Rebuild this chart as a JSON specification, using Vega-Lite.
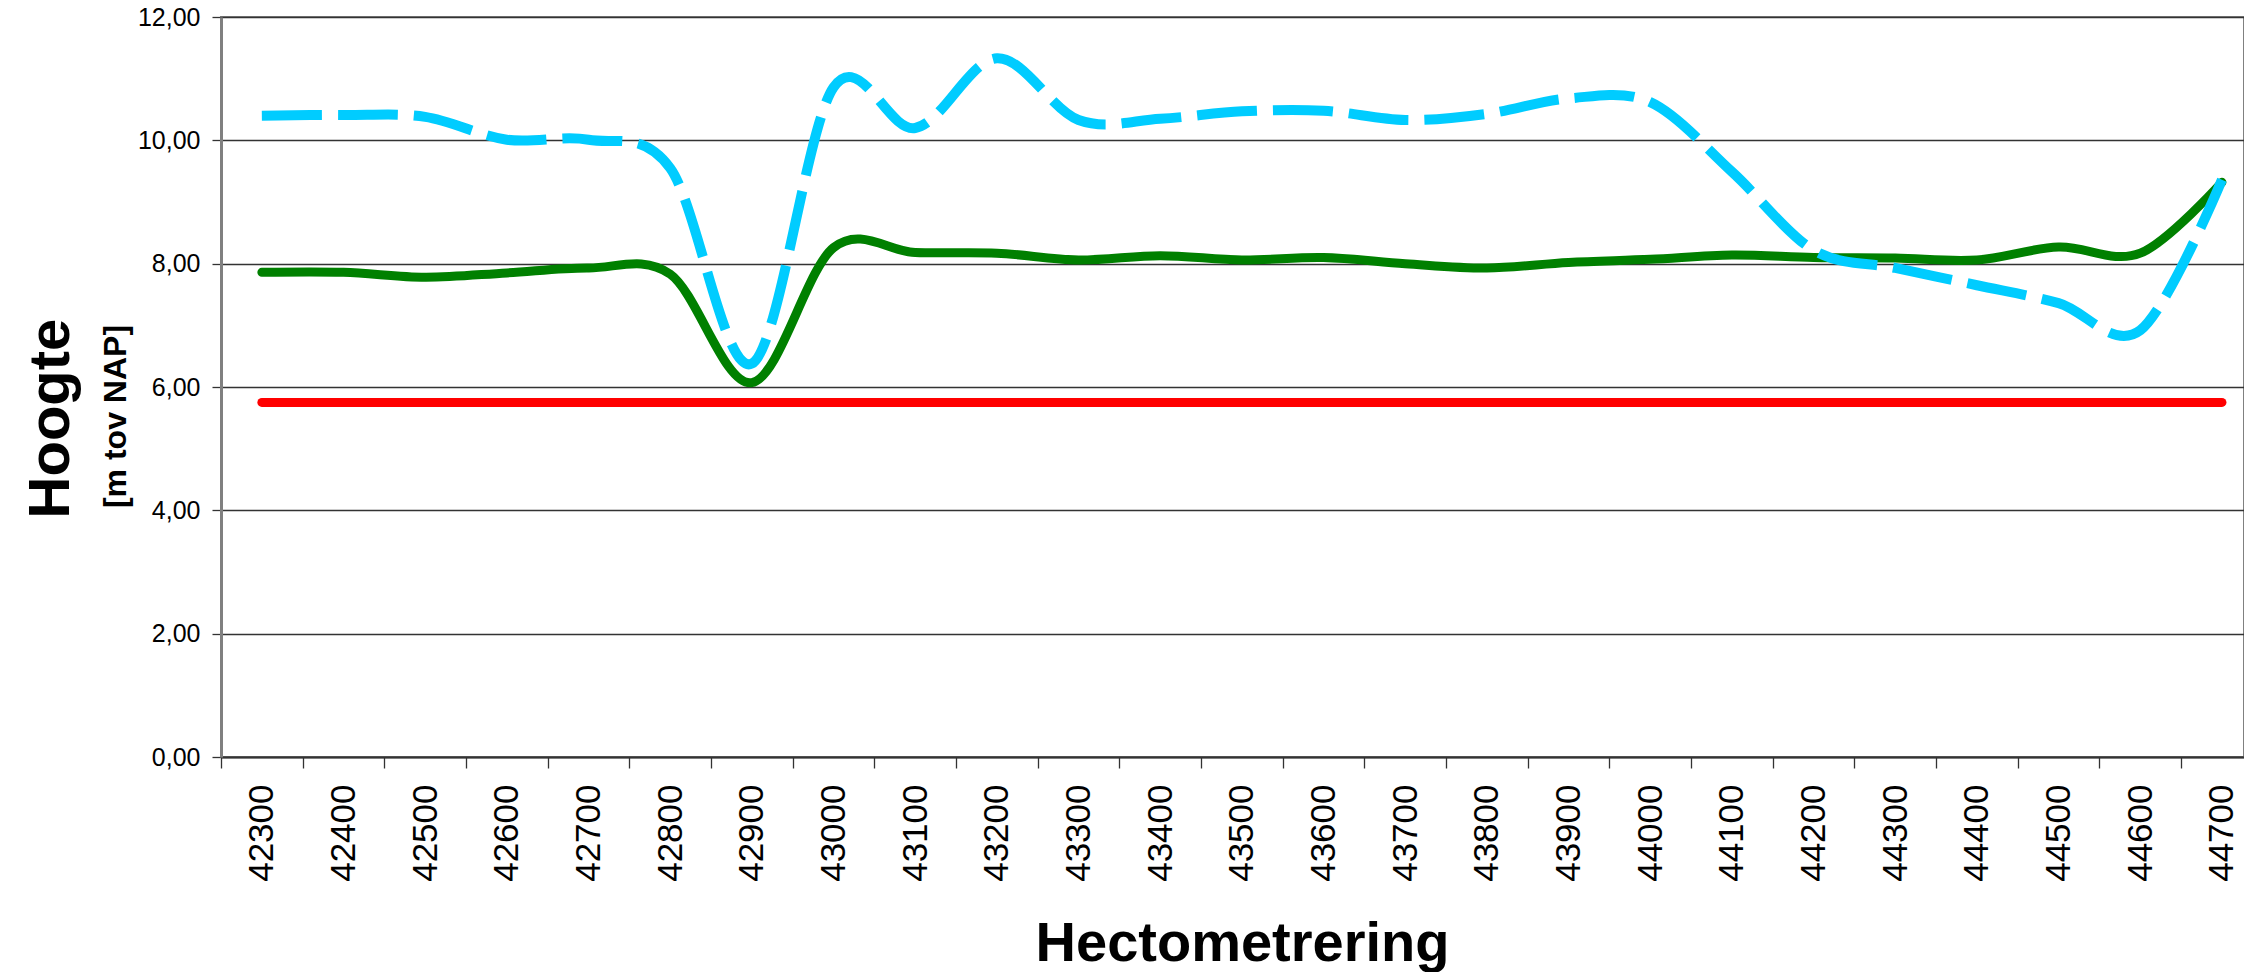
{
  "$schema": "https://vega.github.io/schema/vega-lite/v6.json",
  "autosize": "none",
  "width": 2023,
  "height": 740,
  "padding": {"left": 221, "top": 17, "right": 0, "bottom": 215},
  "background": "white",
  "config": {
    "font": "Liberation Sans",
    "view": {"stroke": "#808080", "strokeWidth": 2},
    "axis": {"labelColor": "#000000", "titleColor": "#000000", "labelFont": "Liberation Sans", "titleFont": "Liberation Sans"}
  },
  "data": {
    "values": [
      {"hm": 42300, "bl": 10.40, "gr": 7.86, "rd": 5.75},
      {"hm": 42400, "bl": 10.41, "gr": 7.86, "rd": 5.75},
      {"hm": 42500, "bl": 10.38, "gr": 7.78, "rd": 5.75},
      {"hm": 42600, "bl": 10.01, "gr": 7.85, "rd": 5.75},
      {"hm": 42700, "bl": 10.01, "gr": 7.93, "rd": 5.75},
      {"hm": 42800, "bl": 9.55, "gr": 7.83, "rd": 5.75},
      {"hm": 42900, "bl": 6.38, "gr": 6.07, "rd": 5.75},
      {"hm": 43000, "bl": 10.86, "gr": 8.26, "rd": 5.75},
      {"hm": 43100, "bl": 10.20, "gr": 8.18, "rd": 5.75},
      {"hm": 43200, "bl": 11.33, "gr": 8.17, "rd": 5.75},
      {"hm": 43300, "bl": 10.33, "gr": 8.06, "rd": 5.75},
      {"hm": 43400, "bl": 10.35, "gr": 8.13, "rd": 5.75},
      {"hm": 43500, "bl": 10.47, "gr": 8.06, "rd": 5.75},
      {"hm": 43600, "bl": 10.48, "gr": 8.10, "rd": 5.75},
      {"hm": 43700, "bl": 10.33, "gr": 8.00, "rd": 5.75},
      {"hm": 43800, "bl": 10.43, "gr": 7.93, "rd": 5.75},
      {"hm": 43900, "bl": 10.68, "gr": 8.02, "rd": 5.75},
      {"hm": 44000, "bl": 10.62, "gr": 8.07, "rd": 5.75},
      {"hm": 44100, "bl": 9.49, "gr": 8.14, "rd": 5.75},
      {"hm": 44200, "bl": 8.22, "gr": 8.10, "rd": 5.75},
      {"hm": 44300, "bl": 7.93, "gr": 8.09, "rd": 5.75},
      {"hm": 44400, "bl": 7.65, "gr": 8.06, "rd": 5.75},
      {"hm": 44500, "bl": 7.36, "gr": 8.27, "rd": 5.75},
      {"hm": 44600, "bl": 6.92, "gr": 8.17, "rd": 5.75},
      {"hm": 44700, "bl": 9.36, "gr": 9.32, "rd": 5.75}
    ]
  },
  "encoding": {
    "x": {
      "field": "hm",
      "type": "quantitative",
      "scale": {"domain": [42250, 44727], "nice": false, "zero": false},
      "axis": {
        "values": [42250, 42350, 42450, 42550, 42650, 42750, 42850, 42950, 43050, 43150, 43250, 43350, 43450, 43550, 43650, 43750, 43850, 43950, 44050, 44150, 44250, 44350, 44450, 44550, 44650],
        "labelExpr": "'' + (datum.value + 50)",
        "grid": false,
        "domainColor": "#333333",
        "domainWidth": 2,
        "tickColor": "#333333",
        "tickWidth": 1.3,
        "tickSize": 11,
        "labelAngle": -90,
        "labelAlign": "right",
        "labelBaseline": "middle",
        "labelPadding": 16,
        "labelOffset": 40.83,
        "labelFontSize": 35,
        "labelOverlap": false,
        "labelFlush": false,
        "labelBound": false,
        "title": "Hectometrering",
        "titleFontSize": 56,
        "titleFontWeight": "bold",
        "titleX": 1021,
        "titleY": 203,
        "titleAlign": "center",
        "titleBaseline": "alphabetic"
      }
    }
  },
  "layer": [
    {
      "mark": {"type": "line", "stroke": "#FF0000", "strokeWidth": 9, "strokeCap": "round"},
      "encoding": {
        "y": {
          "field": "rd",
          "type": "quantitative",
          "scale": {"domain": [0, 12], "nice": false, "zero": true},
          "axis": {
            "orient": "left",
            "values": [0, 2, 4, 6, 8, 10, 12],
            "labelExpr": "replace(format(datum.value, '.2f'), '.', ',')",
            "labelFontSize": 25,
            "labelPadding": 12,
            "tickSize": 9,
            "tickColor": "#333333",
            "tickWidth": 1.3,
            "domainColor": "#808080",
            "domainWidth": 3,
            "grid": true,
            "gridColor": "#333333",
            "gridWidth": 1.3,
            "title": "[m tov NAP]",
            "titleFontSize": 32,
            "titleFontWeight": "bold",
            "titleAngle": -90,
            "titleAlign": "center",
            "titleBaseline": "alphabetic",
            "titleX": -96,
            "titleY": 399
          }
        }
      }
    },
    {
      "mark": {"type": "line", "stroke": "#008000", "strokeWidth": 9, "strokeCap": "round", "interpolate": "cardinal"},
      "encoding": {
        "y": {
          "field": "gr",
          "type": "quantitative",
          "scale": {"domain": [0, 12], "nice": false, "zero": true},
          "axis": {
            "orient": "left",
            "labels": false,
            "ticks": false,
            "domain": false,
            "grid": false,
            "title": "Hoogte",
            "titleFontSize": 58,
            "titleFontWeight": "bold",
            "titleAngle": -90,
            "titleAlign": "center",
            "titleBaseline": "alphabetic",
            "titleX": -153,
            "titleY": 401
          }
        }
      }
    },
    {
      "mark": {"type": "line", "stroke": "#00CCFF", "strokeWidth": 10, "strokeCap": "butt", "strokeDash": [60, 16], "interpolate": "cardinal"},
      "encoding": {
        "y": {
          "field": "bl",
          "type": "quantitative",
          "scale": {"domain": [0, 12], "nice": false, "zero": true},
          "axis": null
        }
      }
    }
  ],
  "resolve": {"axis": {"y": "independent"}}
}
